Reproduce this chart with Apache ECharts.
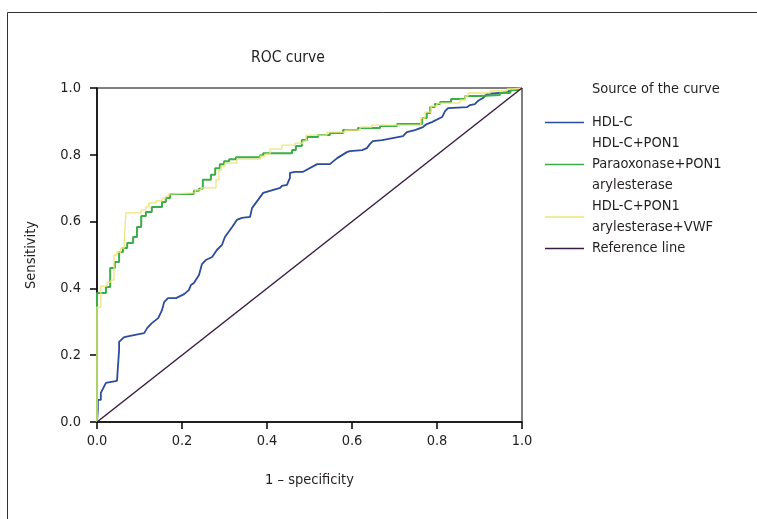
<!DOCTYPE html>
<html><head><meta charset="utf-8">
<script src="https://cdn.jsdelivr.net/npm/echarts@6/dist/echarts.min.js"></script>
<style>html,body{margin:0;padding:0;background:#fff}#c{width:757px;height:519px}</style>
</head><body><div id="c"></div>
<script>
const seriesNames = ['HDL-C', 'HDL-C+PON1\nParaoxonase+PON1\narylesterase', 'HDL-C+PON1\narylesterase+VWF', 'Reference line'];
const axisTicks = [0, 0.2, 0.4, 0.6, 0.8, 1.0];
const hdl = [[0,0],[0.002,0.036],[0.002,0.066],[0.009,0.066],[0.009,0.087],[0.021,0.117],[0.047,0.123],[0.052,0.216],[0.052,0.240],[0.064,0.254],[0.087,0.260],[0.111,0.266],[0.118,0.281],[0.129,0.296],[0.144,0.311],[0.153,0.335],[0.158,0.359],[0.167,0.371],[0.186,0.371],[0.205,0.383],[0.216,0.395],[0.221,0.410],[0.228,0.416],[0.240,0.440],[0.247,0.473],[0.256,0.485],[0.271,0.494],[0.282,0.515],[0.294,0.530],[0.301,0.554],[0.318,0.584],[0.329,0.605],[0.341,0.611],[0.360,0.614],[0.365,0.641],[0.379,0.665],[0.391,0.686],[0.407,0.692],[0.431,0.701],[0.435,0.707],[0.447,0.710],[0.454,0.731],[0.454,0.746],[0.466,0.749],[0.485,0.749],[0.518,0.772],[0.548,0.772],[0.565,0.790],[0.588,0.808],[0.595,0.811],[0.624,0.814],[0.635,0.820],[0.642,0.832],[0.649,0.841],[0.671,0.844],[0.720,0.856],[0.729,0.868],[0.748,0.874],[0.767,0.883],[0.776,0.892],[0.788,0.898],[0.812,0.913],[0.819,0.931],[0.826,0.940],[0.871,0.943],[0.878,0.949],[0.889,0.952],[0.896,0.961],[0.908,0.970],[0.918,0.982],[0.948,0.985],[0.972,0.991],[0.988,0.997],[1,1]];
const paraoxonase = [[0,0],[0,0.386],[0.021,0.386],[0.021,0.404],[0.031,0.404],[0.031,0.461],[0.042,0.461],[0.042,0.479],[0.052,0.479],[0.052,0.509],[0.061,0.509],[0.061,0.521],[0.071,0.521],[0.071,0.536],[0.085,0.536],[0.085,0.554],[0.094,0.554],[0.094,0.584],[0.104,0.584],[0.104,0.617],[0.115,0.617],[0.115,0.629],[0.129,0.629],[0.129,0.644],[0.153,0.644],[0.153,0.659],[0.162,0.659],[0.162,0.671],[0.172,0.671],[0.172,0.683],[0.228,0.683],[0.228,0.692],[0.240,0.692],[0.240,0.698],[0.249,0.698],[0.249,0.725],[0.268,0.725],[0.268,0.740],[0.278,0.740],[0.278,0.760],[0.289,0.760],[0.289,0.772],[0.299,0.772],[0.299,0.781],[0.311,0.781],[0.311,0.787],[0.327,0.787],[0.327,0.793],[0.384,0.793],[0.384,0.799],[0.391,0.799],[0.391,0.805],[0.459,0.805],[0.459,0.814],[0.468,0.814],[0.468,0.826],[0.482,0.826],[0.482,0.844],[0.494,0.844],[0.494,0.853],[0.520,0.853],[0.520,0.859],[0.548,0.859],[0.548,0.865],[0.579,0.865],[0.579,0.874],[0.614,0.874],[0.614,0.880],[0.666,0.880],[0.666,0.886],[0.706,0.886],[0.706,0.892],[0.765,0.892],[0.765,0.910],[0.776,0.910],[0.776,0.925],[0.784,0.925],[0.784,0.943],[0.795,0.943],[0.795,0.952],[0.807,0.952],[0.807,0.958],[0.833,0.958],[0.833,0.967],[0.866,0.967],[0.866,0.976],[0.901,0.976],[0.901,0.979],[0.948,0.979],[0.948,0.985],[0.972,0.985],[0.972,0.994],[0.991,0.994],[0.991,1],[1,1]];
const combined = [[0,0],[0,0.344],[0.009,0.344],[0.009,0.407],[0.024,0.407],[0.024,0.419],[0.033,0.419],[0.033,0.425],[0.040,0.425],[0.040,0.500],[0.047,0.500],[0.047,0.509],[0.056,0.509],[0.056,0.521],[0.064,0.521],[0.064,0.539],[0.068,0.539],[0.068,0.626],[0.104,0.626],[0.104,0.635],[0.115,0.635],[0.115,0.644],[0.122,0.644],[0.122,0.656],[0.139,0.656],[0.139,0.662],[0.153,0.662],[0.153,0.671],[0.162,0.671],[0.162,0.677],[0.169,0.677],[0.169,0.683],[0.176,0.683],[0.176,0.686],[0.231,0.686],[0.231,0.695],[0.245,0.695],[0.245,0.701],[0.280,0.701],[0.280,0.725],[0.287,0.725],[0.287,0.754],[0.292,0.754],[0.292,0.766],[0.301,0.766],[0.301,0.775],[0.329,0.775],[0.329,0.787],[0.384,0.787],[0.384,0.796],[0.395,0.796],[0.395,0.802],[0.407,0.802],[0.407,0.817],[0.435,0.817],[0.435,0.829],[0.466,0.829],[0.466,0.835],[0.485,0.835],[0.485,0.841],[0.492,0.841],[0.492,0.859],[0.541,0.859],[0.541,0.868],[0.584,0.868],[0.584,0.874],[0.619,0.874],[0.619,0.883],[0.647,0.883],[0.647,0.889],[0.762,0.889],[0.762,0.910],[0.772,0.910],[0.772,0.928],[0.786,0.928],[0.786,0.946],[0.800,0.946],[0.800,0.955],[0.854,0.955],[0.854,0.964],[0.866,0.964],[0.866,0.976],[0.873,0.976],[0.873,0.985],[0.925,0.985],[0.925,0.991],[0.965,0.991],[0.965,0.997],[0.979,0.997],[0.979,1],[1,1]];
const reference = [[0,0],[1,1]];

const FONT = "'Liberation Sans Narrow','DejaVu Sans Condensed',sans-serif";
const TXT = '#231f20';
const FS = 14.5;
const colors = ['#2c4c9c', '#3cae47', '#ede57a', '#3a1c44'];
const widths = [1.8, 2, 1.3, 1.5];
const datas = [hdl, paraoxonase, combined, reference];

const chart = echarts.init(document.getElementById('c'), null, {renderer: 'canvas'});
const axisCommon = {
  type: 'value', min: 0, max: 1, interval: 0.2,
  axisLine: {show: true, onZero: false, lineStyle: {color: '#000', width: 1.5}},
  axisTick: {show: true, length: 7, lineStyle: {color: '#000', width: 1.5}},
  splitLine: {show: false},
  axisLabel: {color: TXT, fontFamily: FONT, fontSize: FS, formatter: v => v.toFixed(1)},
  nameLocation: 'middle',
  nameTextStyle: {color: TXT, fontFamily: FONT, fontSize: FS}
};
chart.setOption({
  animation: false,
  title: [
    {text: 'ROC curve', left: 251, top: 50, padding: 0, textStyle: {color: TXT, fontFamily: FONT, fontSize: 15.5, fontWeight: 'normal'}},
    {text: 'Source of the curve', left: 592, top: 82, padding: 0, textStyle: {color: TXT, fontFamily: FONT, fontSize: FS, fontWeight: 'normal'}}
  ],
  graphic: [{type: 'rect', shape: {x: 7.5, y: 12.5, width: 800, height: 600}, style: {fill: 'none', stroke: '#333', lineWidth: 1}, silent: true, z: -1}],
  legend: {
    orient: 'vertical', left: 545, top: 112, padding: 0, itemGap: 0, itemWidth: 39, itemHeight: 1.6,
    icon: 'rect',
    data: seriesNames,
    textStyle: {color: TXT, fontFamily: FONT, fontSize: FS, lineHeight: 21, padding: [0, 0, 0, 3]}
  },
  grid: {left: 97, right: 235, top: 88, bottom: 97, show: true, borderColor: '#000', borderWidth: 1, backgroundColor: 'transparent'},
  xAxis: Object.assign({}, axisCommon, {name: '1 – specificity', nameGap: 51,
    axisLabel: Object.assign({}, axisCommon.axisLabel, {margin: 12})}),
  yAxis: Object.assign({}, axisCommon, {name: 'Sensitivity', nameGap: 58,
    axisLabel: Object.assign({}, axisCommon.axisLabel, {margin: 16})}),
  series: seriesNames.map((n, i) => ({
    name: n, type: 'line', data: datas[i], symbol: 'none', showSymbol: false,
    lineStyle: {color: colors[i], width: widths[i]}, itemStyle: {color: colors[i]},
    z: 2 + i
  }))
});
</script></body></html>
